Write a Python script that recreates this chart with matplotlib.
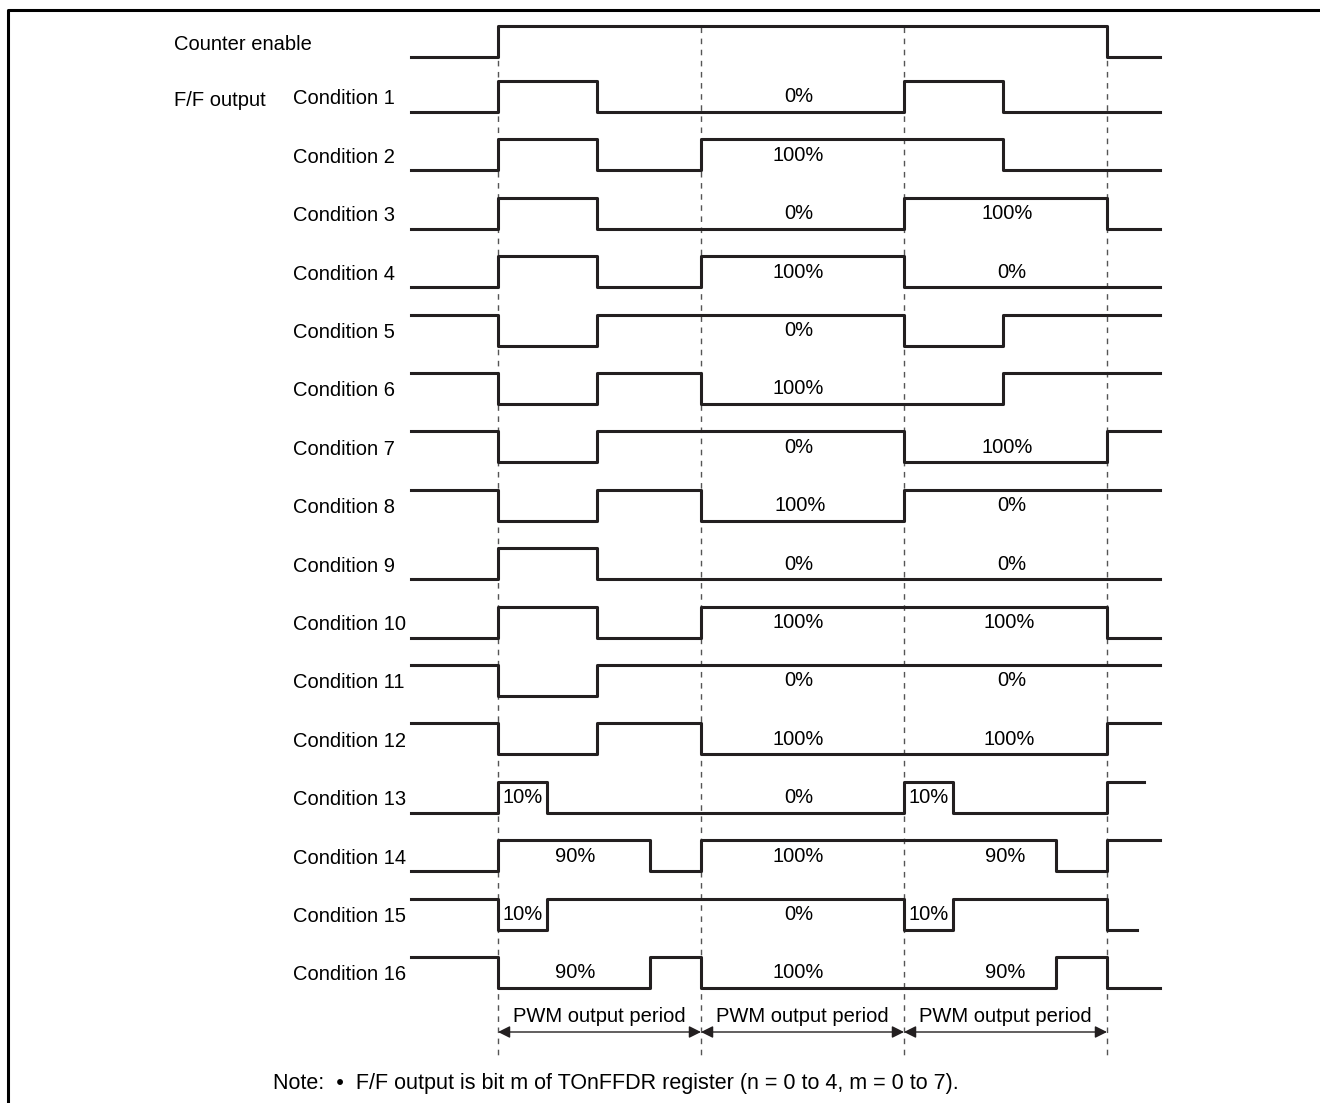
import matplotlib
matplotlib.use('Agg')
import matplotlib.pyplot as plt
import numpy as np

plt.rcParams['font.family'] = ['Liberation Sans', 'DejaVu Sans']

# time is in PWM periods; t = 0 is the counter enable edge
T_START = -0.43
T_END = 3.26
PERIOD_EDGES = [0, 1, 2, 3]

# each wave: start level, times at which the level toggles, end time
counter_enable = (0, [0, 3], T_END)

cond_names = ['Condition %d' % i for i in range(1, 17)]
cond_start = [0, 0, 0, 0, 1, 1, 1, 1, 0, 0, 1, 1, 0, 0, 1, 1]
cond_toggles = [
    [0, 0.49, 2, 2.49],
    [0, 0.49, 1, 2.49],
    [0, 0.49, 2, 3],
    [0, 0.49, 1, 2],
    [0, 0.49, 2, 2.49],
    [0, 0.49, 1, 2.49],
    [0, 0.49, 2, 3],
    [0, 0.49, 1, 2],
    [0, 0.49],
    [0, 0.49, 1, 3],
    [0, 0.49],
    [0, 0.49, 1, 3],
    [0, 0.24, 2, 2.24, 3],
    [0, 0.75, 1, 2.75, 3],
    [0, 0.24, 2, 2.24, 3],
    [0, 0.75, 1, 2.75, 3],
]
cond_end = [T_END] * 12 + [3.18, T_END, 3.15, T_END]

# duty labels: (time, text)
cond_labels = [
    [(1.48, '0%')],
    [(1.48, '100%')],
    [(1.48, '0%'), (2.51, '100%')],
    [(1.48, '100%'), (2.53, '0%')],
    [(1.48, '0%')],
    [(1.48, '100%')],
    [(1.48, '0%'), (2.51, '100%')],
    [(1.49, '100%'), (2.53, '0%')],
    [(1.48, '0%'), (2.53, '0%')],
    [(1.48, '100%'), (2.52, '100%')],
    [(1.48, '0%'), (2.53, '0%')],
    [(1.48, '100%'), (2.52, '100%')],
    [(0.12, '10%'), (1.48, '0%'), (2.12, '10%')],
    [(0.38, '90%'), (1.48, '100%'), (2.5, '90%')],
    [(0.12, '10%'), (1.48, '0%'), (2.12, '10%')],
    [(0.38, '90%'), (1.48, '100%'), (2.5, '90%')],
]

note = 'Note:  \u2022  F/F output is bit m of TOnFFDR register (n = 0 to 4, m = 0 to 7).'


def wave(start, toggles, end):
    t = [T_START] + list(toggles) + [end]
    lv = [start]
    for _ in toggles:
        lv.append(1 - lv[-1])
    lv.append(lv[-1])
    return np.array(t), np.array(lv)


def main():
    fig = plt.figure(figsize=(13.2, 11.03), dpi=100)
    ax = fig.add_axes([0, 0, 1, 1])
    px = 203.0  # pixels per period
    ax.set_xlim(-498 / px, (1320 - 498) / px)
    ax.set_ylim(1103, 0)
    ax.axis('off')

    amp = 31
    fs = 14.5
    wcol = '#231f20'

    # frame
    ax.plot([-490 / px, -490 / px, 822 / px], [1103, 10, 10],
            color='black', lw=2.2, solid_capstyle='butt', clip_on=False)

    # period marks
    for t in PERIOD_EDGES:
        ax.plot([t, t], [27, 1056], color='#555555', lw=1.0,
                dashes=(4, 4))

    # counter enable
    t, lv = wave(*counter_enable)
    ax.plot(t, 57 - amp * lv, drawstyle='steps-post', color=wcol, lw=2.2)
    ax.text(-324 / px, 44, 'Counter enable', fontsize=fs, va='center')
    ax.text(-324 / px, 100, 'F/F output', fontsize=fs, va='center')

    for i in range(16):
        low = 112 + i * 58.4
        t, lv = wave(cond_start[i], cond_toggles[i], cond_end[i])
        ax.plot(t, low - amp * lv, drawstyle='steps-post', color=wcol,
                lw=2.2)
        ax.text(-205 / px, low - 13, cond_names[i], fontsize=fs,
                va='center')
        for lt, txt in cond_labels[i]:
            ax.text(lt, low - 15, txt, fontsize=fs, ha='center',
                    va='center')

    # period arrows
    for a, b in zip(PERIOD_EDGES[:-1], PERIOD_EDGES[1:]):
        ax.annotate('', xy=(b, 1032), xytext=(a, 1032),
                    arrowprops=dict(arrowstyle='<|-|>', color=wcol,
                                    lw=1.0, mutation_scale=18,
                                    shrinkA=0, shrinkB=0))
        ax.text((a + b) / 2, 1017, 'PWM output period', fontsize=fs,
                ha='center', va='center')

    ax.text(-225 / px, 1084, note, fontsize=15.5, va='center')

    fig.savefig('out.png', dpi=100)


if __name__ == '__main__':
    main()
